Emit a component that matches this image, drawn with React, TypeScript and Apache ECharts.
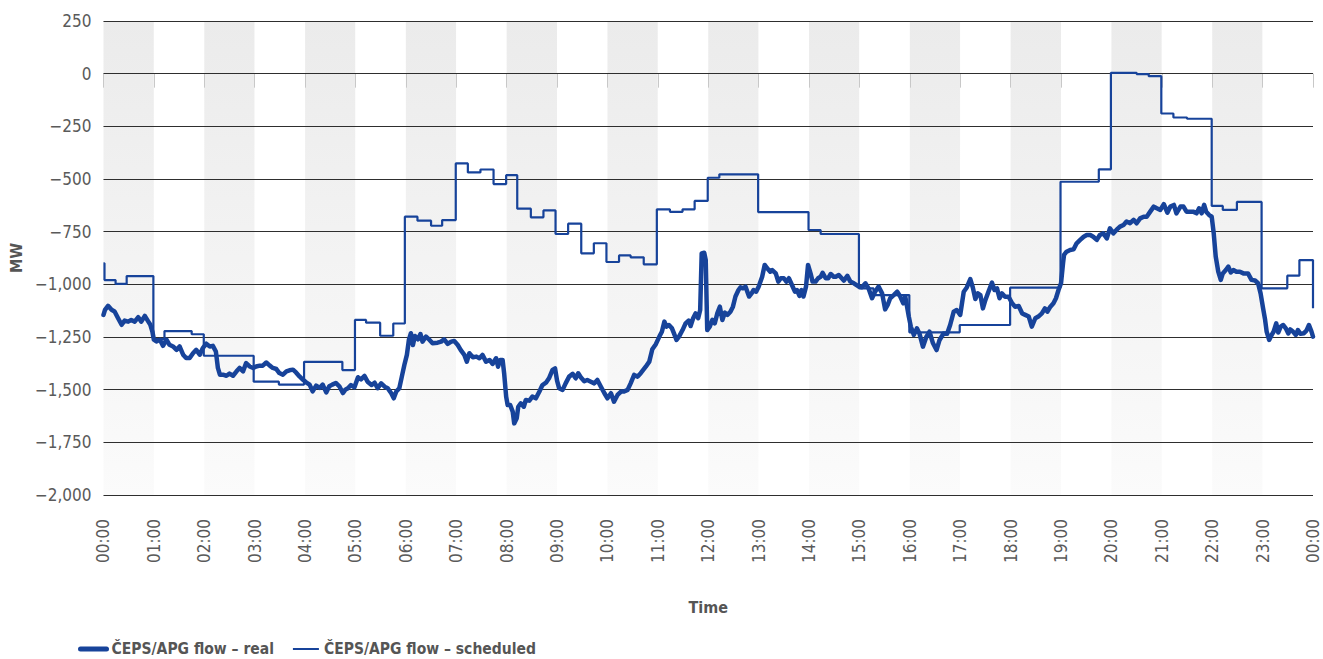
import React, { useEffect, useRef } from "react";
import * as echarts from "echarts";

const hourTicks = [0, 1, 2, 3, 4, 5, 6, 7, 8, 9, 10, 11, 12, 13, 14, 15, 16, 17, 18, 19, 20, 21, 22, 23, 24];
const seriesNames = ["ČEPS/APG flow – real", "ČEPS/APG flow – scheduled"];

const realTimes = [
  0.0, 0.03, 0.09, 0.16, 0.22, 0.29, 0.36, 0.42, 0.49, 0.55, 0.62, 0.69, 0.75, 0.82, 0.89, 0.93, 0.97,
  1.0, 1.05, 1.12, 1.18, 1.25, 1.31, 1.38, 1.45, 1.51, 1.58, 1.64, 1.71, 1.78, 1.84, 1.91, 1.97,
  2.04, 2.11, 2.17, 2.23, 2.27, 2.31, 2.37, 2.44, 2.5, 2.57, 2.64, 2.7, 2.77, 2.83, 2.9, 2.97,
  3.03, 3.1, 3.16, 3.23, 3.3, 3.36, 3.43, 3.49, 3.56, 3.63, 3.69, 3.76, 3.82, 3.89, 3.96,
  4.02, 4.09, 4.15, 4.22, 4.29, 4.35, 4.42, 4.48, 4.54, 4.61, 4.68, 4.75, 4.8, 4.85, 4.91, 4.98,
  5.05, 5.11, 5.18, 5.24, 5.32, 5.38, 5.44, 5.51, 5.58, 5.64, 5.71, 5.76, 5.81, 5.87, 5.92, 5.97,
  6.02, 6.06, 6.1, 6.14, 6.18, 6.24, 6.29, 6.33, 6.4, 6.47, 6.53, 6.63, 6.7, 6.76, 6.83, 6.9, 6.96,
  7.03, 7.09, 7.16, 7.21, 7.26, 7.33, 7.4, 7.46, 7.52, 7.59, 7.66, 7.72, 7.79, 7.83, 7.87, 7.92, 7.95, 7.99,
  8.02, 8.07, 8.12, 8.15, 8.2, 8.23, 8.28, 8.34, 8.38, 8.45, 8.51, 8.58, 8.65, 8.71, 8.78, 8.84, 8.91, 8.96,
  9.0, 9.04, 9.11, 9.17, 9.24, 9.31, 9.37, 9.42, 9.47, 9.54, 9.6, 9.67, 9.74, 9.8, 9.87, 9.94,
  10.0, 10.07, 10.13, 10.2, 10.27, 10.33, 10.4, 10.46, 10.53, 10.6, 10.66, 10.76, 10.83, 10.89, 10.96,
  11.03, 11.08, 11.13, 11.17, 11.22, 11.28, 11.32, 11.37, 11.42, 11.49, 11.55, 11.61, 11.65, 11.7, 11.75, 11.8, 11.84, 11.87, 11.92, 11.95, 11.98,
  12.03, 12.08, 12.13, 12.18, 12.23, 12.28, 12.33, 12.38, 12.44, 12.49, 12.54, 12.6, 12.64, 12.69, 12.74, 12.81, 12.86, 12.9, 12.95,
  13.0, 13.07, 13.12, 13.17, 13.23, 13.27, 13.34, 13.39, 13.44, 13.5, 13.55, 13.6, 13.67, 13.72, 13.76, 13.81, 13.85, 13.89, 13.94, 13.98,
  14.03, 14.07, 14.13, 14.18, 14.23, 14.27, 14.33, 14.38, 14.43, 14.49, 14.53, 14.59, 14.69, 14.76, 14.82, 14.89, 14.99,
  15.05, 15.12, 15.18, 15.25, 15.31, 15.38, 15.45, 15.51, 15.56, 15.61, 15.68, 15.75, 15.81, 15.87, 15.91, 15.98,
  16.02, 16.08, 16.14, 16.19, 16.26, 16.33, 16.39, 16.46, 16.53, 16.59, 16.67, 16.74, 16.8, 16.87, 16.93,
  17.0, 17.07, 17.13, 17.2, 17.25, 17.3, 17.35, 17.4, 17.45, 17.5, 17.56, 17.63, 17.68, 17.73, 17.78, 17.83, 17.89, 17.96,
  18.03, 18.09, 18.16, 18.23, 18.29, 18.36, 18.42, 18.49, 18.55, 18.62, 18.68, 18.73, 18.78, 18.85, 18.9, 18.95,
  19.0, 19.04, 19.06, 19.11, 19.18, 19.25, 19.31, 19.38, 19.45, 19.51, 19.58, 19.64, 19.71, 19.77, 19.84, 19.91, 19.97,
  20.04, 20.1, 20.17, 20.24, 20.3, 20.37, 20.44, 20.5, 20.57, 20.64, 20.7, 20.77, 20.84, 20.9, 20.97,
  21.04, 21.11, 21.17, 21.24, 21.29, 21.37, 21.43, 21.49, 21.56, 21.62, 21.69, 21.74, 21.79, 21.84, 21.88, 21.94, 21.99,
  22.03, 22.07, 22.12, 22.17, 22.21, 22.27, 22.32, 22.37, 22.42, 22.48, 22.55, 22.62, 22.71, 22.78, 22.85, 22.91, 22.96,
  23.01, 23.05, 23.08, 23.13, 23.18, 23.22, 23.27, 23.31, 23.36, 23.41, 23.46, 23.51, 23.55, 23.6, 23.66, 23.7, 23.75, 23.82, 23.87, 23.92, 23.97, 24.0,
];

const realValues = [
  -1145, -1121, -1102, -1121, -1129, -1161, -1192, -1172, -1177, -1169, -1177, -1156, -1177, -1150, -1177, -1192, -1224,
  -1263, -1271, -1263, -1292, -1263, -1287, -1295, -1311, -1295, -1334, -1350, -1350, -1326, -1311, -1334, -1303,
  -1282, -1295, -1292, -1319, -1397, -1429, -1429, -1434, -1424, -1434, -1413, -1397, -1413, -1374, -1390, -1397,
  -1390, -1386, -1386, -1371, -1386, -1397, -1402, -1421, -1429, -1413, -1408, -1405, -1418, -1437, -1453,
  -1465, -1476, -1508, -1481, -1492, -1476, -1513, -1484, -1476, -1468, -1484, -1516, -1500, -1493, -1478, -1489,
  -1441, -1451, -1435, -1462, -1478, -1467, -1493, -1470, -1486, -1493, -1517, -1541, -1509, -1493, -1438, -1383,
  -1335, -1264, -1232, -1288, -1245, -1261, -1236, -1272, -1248, -1264, -1280, -1277, -1272, -1261, -1283, -1272, -1269,
  -1288, -1312, -1335, -1367, -1327, -1346, -1343, -1351, -1335, -1367, -1359, -1378, -1351, -1391, -1359, -1359, -1422, -1533,
  -1573, -1573, -1604, -1660, -1636, -1581, -1565, -1581, -1549, -1552, -1533, -1541, -1509, -1478, -1467, -1446, -1406, -1399,
  -1457, -1493, -1501, -1470, -1438, -1425, -1446, -1422, -1441, -1460, -1454, -1462, -1470, -1454, -1486, -1517,
  -1541, -1517, -1557, -1525, -1509, -1509, -1501, -1470, -1430, -1438, -1422, -1391, -1367, -1308, -1284,
  -1248, -1225, -1177, -1201, -1193, -1209, -1233, -1264, -1248, -1217, -1185, -1172, -1198, -1161, -1138, -1161, -1122, -853, -850, -884, -1217,
  -1201, -1169, -1185, -1138, -1106, -1169, -1134, -1145, -1130, -1106, -1058, -1027, -1014, -1019, -1011, -1058, -1043, -1027, -1035,
  -1011, -964, -908, -924, -940, -932, -948, -987, -971, -971, -987, -971, -1008, -1035, -1027, -1055, -1027, -1058, -1011, -908,
  -948, -987, -987, -971, -964, -945, -971, -971, -951, -964, -964, -956, -982, -960, -987, -995, -1011,
  -1014, -995, -1019, -1066, -1035, -1011, -1043, -1119, -1098, -1066, -1051, -1035, -1058, -1090, -1058, -1153,
  -1201, -1240, -1209, -1233, -1296, -1248, -1225, -1280, -1312, -1264, -1233, -1235, -1193, -1130, -1122,
  -1145, -1035, -1015, -975, -1015, -1070, -1043, -1051, -1114, -1074, -1035, -992, -1027, -1019, -1066, -1043, -1059, -1059,
  -1090, -1106, -1103, -1138, -1145, -1153, -1201, -1161, -1153, -1138, -1114, -1130, -1109, -1090, -1066, -1027,
  -995, -900, -860, -845, -837, -834, -805, -789, -774, -766, -766, -774, -789, -766, -758, -782, -734,
  -758, -742, -726, -718, -702, -710, -694, -710, -687, -679, -679, -655, -631, -639, -647,
  -619, -660, -631, -623, -663, -631, -631, -655, -655, -655, -663, -639, -663, -623, -655, -671, -679,
  -758, -869, -940, -979, -948, -932, -916, -944, -932, -940, -940, -948, -948, -979, -982, -995, -1043,
  -1114, -1169, -1224, -1264, -1240, -1224, -1185, -1229, -1201, -1193, -1209, -1233, -1214, -1224, -1240, -1217, -1235, -1232, -1220, -1193, -1224, -1248,
];

const schedTimes = [
  0, 0.02, 0.24, 0.46, 0.99, 1.21, 1.75, 1.99, 2.98, 3.48, 3.98, 4.74, 4.99, 5.21, 5.49, 5.75, 5.98,
  6.23, 6.5, 6.72, 6.99, 7.23, 7.48, 7.74, 7.99, 8.21, 8.48, 8.73, 8.97, 9.22, 9.48, 9.73, 9.98,
  10.23, 10.46, 10.72, 10.98, 11.24, 11.49, 11.73, 11.99, 12.22, 12.99, 13.99, 14.23, 14.99, 15.28,
  15.99, 16.99, 17.99, 18.99, 19.75, 19.99, 20.5, 20.74, 20.99, 21.23, 21.5, 21.99, 22.21, 22.49,
  22.98, 23.49, 23.73, 24,
];

const schedValues = [
  -900, -980, -998, -961, -1260, -1222, -1237, -1339, -1462, -1476, -1368, -1407, -1169, -1182, -1244, -1186, -679,
  -698, -722, -695, -426, -469, -455, -524, -482, -641, -682, -649, -761, -712, -853, -805, -894,
  -863, -872, -905, -644, -656, -644, -604, -494, -478, -657, -742, -761, -1019, -1051,
  -1228, -1193, -1016, -513, -454, 4, -2, -12, -189, -208, -214, -628, -647, -609,
  -1019, -959, -885, -1114,
];

const LINE_COLOR = "#17439a";
const FONT = '"DejaVu Sans Condensed", "Liberation Sans Narrow", "Noto Sans", sans-serif';

function fmtY(v: number): string {
  const s = Math.abs(v).toLocaleString("en-US");
  return v < 0 ? "\u2212" + s : s;
}

function fmtX(h: number): string {
  return String(h % 24).padStart(2, "0") + ":00";
}

export default function App() {
  const ref = useRef<HTMLDivElement>(null);

  useEffect(() => {
    document.body.style.margin = "0";
    if (!ref.current) return;
    const chart = echarts.init(ref.current, null, { renderer: "svg" });
    const realData = realTimes.map((t, i) => [t, realValues[i]]);
    const schedData = schedTimes.map((t, i) => [t, schedValues[i]]);
    const bandGrey = new echarts.graphic.LinearGradient(0, 0, 0, 1, [
      { offset: 0, color: "#ebebeb" },
      { offset: 1, color: "#fbfbfb" },
    ]);
    chart.setOption({
      animation: false,
      grid: { left: 102, right: 10, top: 21, bottom: 164, containLabel: false },
      legend: {
        left: 73,
        top: 636,
        itemWidth: 26,
        itemHeight: 14,
        itemGap: 18,
        itemStyle: { opacity: 0 },
        data: [
          { name: seriesNames[0], lineStyle: { width: 5, cap: "round", color: LINE_COLOR } },
          { name: seriesNames[1], lineStyle: { width: 2, cap: "butt", color: LINE_COLOR } },
        ],
        textStyle: { fontFamily: FONT, fontSize: 15.5, color: "#555", fontWeight: "bold" },
      },
      xAxis: {
        type: "value",
        min: 0,
        max: 24,
        interval: 1,
        offset: 4,
        z: 0,
        name: "Time",
        nameLocation: "middle",
        nameGap: 100,
        nameTextStyle: { fontFamily: FONT, fontSize: 16, fontWeight: "bold", color: "#555" },
        axisLine: { show: false },
        axisTick: { show: true, length: 14, lineStyle: { color: "#c8c8c8", width: 1 } },
        axisLabel: {
          rotate: 90,
          margin: 20,
          fontFamily: FONT,
          fontSize: 17,
          color: "#5a5a5a",
          formatter: (v: number) => fmtX(v),
        },
        splitLine: { show: false },
        splitArea: { show: true, areaStyle: { color: [bandGrey, "#ffffff"] } },
      },
      yAxis: {
        type: "value",
        min: -2000,
        max: 250,
        interval: 250,
        z: 1,
        name: "MW",
        nameLocation: "middle",
        nameGap: 76,
        nameTextStyle: { fontFamily: FONT, fontSize: 16, fontWeight: "bold", color: "#555" },
        axisLine: { show: false },
        axisTick: { show: false },
        axisLabel: {
          margin: 12,
          fontFamily: FONT,
          fontSize: 17,
          color: "#5a5a5a",
          formatter: (v: number) => fmtY(v),
        },
        splitLine: { show: true, lineStyle: { color: "#2e2e2e", width: 1 } },
      },
      series: [
        {
          name: seriesNames[0],
          type: "line",
          data: realData,
          showSymbol: false,
          symbol: "none",
          lineStyle: { color: LINE_COLOR, width: 4.5, join: "round", cap: "round" },
          itemStyle: { color: LINE_COLOR },
          z: 3,
        },
        {
          name: seriesNames[1],
          type: "line",
          data: schedData,
          step: "end",
          showSymbol: false,
          symbol: "none",
          lineStyle: { color: LINE_COLOR, width: 2.2 },
          itemStyle: { color: LINE_COLOR },
          z: 2,
        },
      ],
    });
    return () => chart.dispose();
  }, []);

  return <div ref={ref} style={{ width: 1323, height: 659 }} />;
}
